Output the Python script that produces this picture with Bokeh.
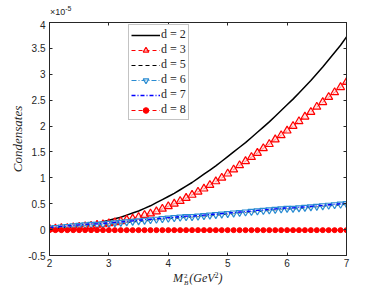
from bokeh.plotting import figure
from bokeh.models import (Range1d, LinearAxis, FixedTicker, Legend, LegendItem,
                          CustomJSTickFormatter, Div)
from bokeh.layouts import column
from bokeh.embed import file_html
from bokeh.resources import INLINE

# M_B^2 (GeV^2)
x_vals = [2.0, 2.1, 2.2, 2.3, 2.4, 2.5, 2.6, 2.7, 2.8, 2.9,
          3.0, 3.1, 3.2, 3.3, 3.4, 3.5, 3.6, 3.7, 3.8, 3.9,
          4.0, 4.1, 4.2, 4.3, 4.4, 4.5, 4.6, 4.7, 4.8, 4.9,
          5.0, 5.1, 5.2, 5.3, 5.4, 5.5, 5.6, 5.7, 5.8, 5.9,
          6.0, 6.1, 6.2, 6.3, 6.4, 6.5, 6.6, 6.7, 6.8, 6.9,
          7.0]

# condensate values in units of 1e-5
d2 = [0.03, 0.03, 0.04, 0.04, 0.05, 0.07, 0.08, 0.10, 0.12, 0.15,
      0.18, 0.21, 0.24, 0.28, 0.32, 0.36, 0.41, 0.46, 0.52, 0.58,
      0.64, 0.70, 0.77, 0.84, 0.91, 0.99, 1.07, 1.15, 1.23, 1.32,
      1.41, 1.50, 1.59, 1.68, 1.78, 1.88, 1.98, 2.08, 2.19, 2.30,
      2.41, 2.52, 2.64, 2.76, 2.88, 3.01, 3.14, 3.28, 3.42, 3.56,
      3.72]
d3 = [0.02, 0.02, 0.03, 0.03, 0.04, 0.05, 0.06, 0.07, 0.09, 0.10,
      0.12, 0.14, 0.16, 0.19, 0.21, 0.24, 0.28, 0.31, 0.35, 0.40,
      0.45, 0.50, 0.55, 0.61, 0.67, 0.73, 0.79, 0.86, 0.93, 1.00,
      1.08, 1.16, 1.24, 1.32, 1.40, 1.48, 1.57, 1.65, 1.74, 1.82,
      1.91, 2.00, 2.09, 2.18, 2.27, 2.37, 2.46, 2.56, 2.65, 2.75,
      2.85]
d5 = [0.02, 0.03, 0.04, 0.05, 0.06, 0.07, 0.08, 0.09, 0.09, 0.10,
      0.11, 0.12, 0.13, 0.14, 0.15, 0.16, 0.17, 0.18, 0.19, 0.20,
      0.21, 0.22, 0.23, 0.24, 0.24, 0.25, 0.26, 0.27, 0.28, 0.29,
      0.30, 0.31, 0.32, 0.33, 0.34, 0.35, 0.36, 0.37, 0.38, 0.39,
      0.40, 0.40, 0.41, 0.42, 0.43, 0.44, 0.45, 0.46, 0.47, 0.48,
      0.49]
d6 = [0.03, 0.04, 0.05, 0.06, 0.07, 0.08, 0.09, 0.10, 0.10, 0.11,
      0.12, 0.13, 0.14, 0.15, 0.16, 0.17, 0.18, 0.19, 0.20, 0.21,
      0.22, 0.23, 0.24, 0.25, 0.25, 0.26, 0.27, 0.28, 0.29, 0.30,
      0.31, 0.32, 0.33, 0.34, 0.35, 0.36, 0.37, 0.38, 0.39, 0.40,
      0.41, 0.41, 0.42, 0.43, 0.44, 0.45, 0.46, 0.47, 0.48, 0.49,
      0.50]
d7 = [0.04, 0.05, 0.06, 0.07, 0.08, 0.09, 0.10, 0.11, 0.11, 0.12,
      0.13, 0.14, 0.15, 0.16, 0.17, 0.18, 0.19, 0.20, 0.21, 0.22,
      0.23, 0.24, 0.25, 0.26, 0.26, 0.27, 0.28, 0.29, 0.30, 0.31,
      0.32, 0.33, 0.34, 0.35, 0.36, 0.37, 0.38, 0.39, 0.40, 0.41,
      0.42, 0.42, 0.43, 0.44, 0.45, 0.46, 0.47, 0.48, 0.49, 0.50,
      0.51]
d8 = [-0.01] * 51

x_ticks = [2, 3, 4, 5, 6, 7]
y_ticks = [-0.5, 0, 0.5, 1, 1.5, 2, 2.5, 3, 3.5, 4]
y_tick_labels = ["-0.5", "0", "0.5", "1", "1.5", "2", "2.5", "3", "3.5", "4"]
legend_labels = ["d = 2", "d = 3", "d = 5", "d = 6", "d = 7", "d = 8"]

AX = "#262626"
p = figure(width=382, height=250, output_backend="svg", toolbar_location=None,
           x_range=Range1d(2, 7), y_range=Range1d(-0.5, 4),
           min_border_left=49, min_border_right=36, min_border_top=2,
           min_border_bottom=15)
p.grid.visible = False
p.outline_line_color = AX
p.outline_line_width = 0.8
p.background_fill_color = "white"

for ax in [p.xaxis[0], p.yaxis[0]]:
    ax.axis_line_color = AX
    ax.major_tick_line_color = AX
    ax.major_tick_in = 3
    ax.major_tick_out = 0
    ax.minor_tick_line_color = None
    ax.major_label_text_font = "Liberation Sans"
    ax.major_label_text_font_size = "10px"
    ax.major_label_text_color = AX
    ax.major_label_standoff = 4
p.xaxis[0].ticker = FixedTicker(ticks=x_ticks)
p.xaxis[0].major_label_standoff = 3
p.yaxis[0].ticker = FixedTicker(ticks=y_ticks)
p.yaxis[0].major_label_overrides = {t: s for t, s in zip(y_ticks, y_tick_labels)}
p.yaxis[0].axis_label = "Condensates"
p.yaxis[0].axis_label_text_font = "Liberation Serif"
p.yaxis[0].axis_label_text_font_style = "italic"
p.yaxis[0].axis_label_text_font_size = "13px"
p.yaxis[0].axis_label_text_color = AX
p.yaxis[0].axis_label_standoff = 0

blank = CustomJSTickFormatter(code="return ''")
top = LinearAxis(ticker=FixedTicker(ticks=x_ticks), formatter=blank,
                 major_tick_in=3, major_tick_out=0, axis_line_color=AX,
                 major_tick_line_color=AX, minor_tick_line_color=None,
                 major_label_standoff=0)
right = LinearAxis(ticker=FixedTicker(ticks=y_ticks), formatter=blank,
                   major_tick_in=3, major_tick_out=0, axis_line_color=AX,
                   major_tick_line_color=AX, minor_tick_line_color=None,
                   major_label_standoff=0)
p.add_layout(top, "above")
p.add_layout(right, "right")

RED = "#ff0000"
BLUE6 = "#2a8cd2"
l2 = p.line(x_vals, d2, line_color="black", line_width=1.5)
l3 = p.line(x_vals, d3, line_color=RED, line_width=1, line_dash="4 3")
s3 = p.scatter(x_vals, d3, marker="triangle", size=8, line_color=RED,
               fill_color="#ffd0d0", fill_alpha=0.6, line_width=1.2)
l5 = p.line(x_vals, d5, line_color="black", line_width=1.2, line_dash="4 3")
l6 = p.line(x_vals, d6, line_color=BLUE6, line_width=1.2, line_dash="5 2 1 2")
s6 = p.scatter(x_vals, d6, marker="inverted_triangle", size=7, line_color=BLUE6,
               fill_color="white", fill_alpha=0.5, line_width=1.2)
l7 = p.line(x_vals, d7, line_color="#0000ff", line_width=1.3, line_dash="4 2 1 2")
l8 = p.line(x_vals, d8, line_color=RED, line_width=1, line_dash="4 3")
s8 = p.scatter(x_vals, d8, marker="circle", size=5, line_color=RED, fill_color=RED)

items = [LegendItem(label=legend_labels[0], renderers=[l2]),
         LegendItem(label=legend_labels[1], renderers=[l3, s3]),
         LegendItem(label=legend_labels[2], renderers=[l5]),
         LegendItem(label=legend_labels[3], renderers=[l6, s6]),
         LegendItem(label=legend_labels[4], renderers=[l7]),
         LegendItem(label=legend_labels[5], renderers=[l8, s8])]
leg = Legend(items=items, location=(79, 135), padding=2, margin=0, spacing=0,
             glyph_width=29, glyph_height=14, label_height=14, label_standoff=1,
             label_text_font="Liberation Serif", label_text_font_size="12px",
             label_text_color=AX, border_line_color="#888888", border_line_width=0.8,
             background_fill_color="white", background_fill_alpha=1)
p.add_layout(leg, "center")

top_div = Div(width=382, height=20, styles={"margin": "0", "padding": "0"}, text=(
    '<div style="position:relative;width:382px;height:20px;">'
    '<span style="position:absolute;left:50px;top:7px;font-family:\'Liberation Sans\';'
    'font-size:9px;line-height:10px;color:#262626;">×10'
    '<span style="font-size:7px;position:relative;top:-4px;">-5</span></span></div>'))

bot_div = Div(width=382, height=16, styles={"margin": "0", "padding": "0"}, text=(
    '<div style="position:relative;width:382px;height:16px;">'
    '<span style="position:absolute;left:173px;top:2px;white-space:nowrap;'
    'font-family:\'Liberation Serif\';font-style:italic;font-size:12px;line-height:13px;color:#262626;">M'
    '<span style="display:inline-block;vertical-align:-3px;font-size:7px;line-height:7px;'
    'margin-left:1px;margin-right:1px;">'
    '<span style="display:block;font-style:normal;">2</span>'
    '<span style="display:block;">B</span></span>(GeV'
    '<span style="font-size:8px;font-style:normal;position:relative;top:-4px;">2</span>)'
    '</span></div>'))

layout = column(top_div, p, bot_div, spacing=0)

open("out.html", "w").write(file_html(layout, INLINE))
